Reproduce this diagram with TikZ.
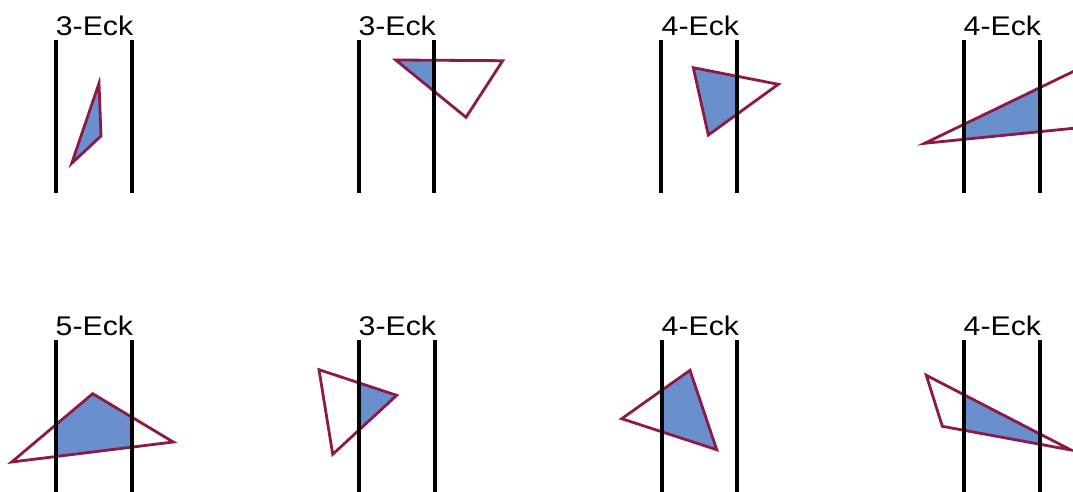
\documentclass[tikz,border=0pt]{standalone}
\usepackage{fontspec}
\setmainfont{Liberation Sans}
\usepackage{graphicx}
\definecolor{polyred}{RGB}{140,25,70}
\definecolor{polyblue}{RGB}{105,143,205}
\tikzset{
  stripline/.style={line width=4pt, black},
  polyline/.style={line width=2.8pt, polyred, line join=miter},
  polyfill/.style={fill=polyblue},
  ecklabel/.style={anchor=base west, inner sep=0pt, font=\fontsize{27}{27}\selectfont}
}
\newcommand\eckpanel[5]{%
  \begin{scope}
    \clip (#1,0) rectangle (#2,492);
    \fill[polyfill] #5;
  \end{scope}
  \draw[polyline] #5;
  \draw[stripline] (#1,#3) -- (#1,#4);
  \draw[stripline] (#2,#3) -- (#2,#4);
}
\begin{document}
\begin{tikzpicture}[x=1pt,y=-1pt]
\useasboundingbox (0,0) rectangle (1073,492);
\clip (0,0) rectangle (1073,492);
\fill[white] (0,0) rectangle (1073,492);
% top row
\eckpanel{55.7}{131.7}{40}{192.7}{(99,83.3) -- (101,136) -- (71.7,163.3) -- cycle}
\eckpanel{359.3}{434.3}{40}{192.7}{(395.7,60) -- (502.7,60.7) -- (466,117.3) -- cycle}
\eckpanel{661}{736.7}{40}{192.7}{(693.3,67.7) -- (778.3,84.3) -- (708.3,135) -- cycle}
\eckpanel{964}{1039.7}{40}{192.7}{(924.7,143.3) -- (1100,58.6) -- (1100,125.6) -- cycle}
% bottom row
\eckpanel{56}{132}{340.3}{495}{(92.7,393.7) -- (173.3,442) -- (11.7,462) -- cycle}
\eckpanel{359}{434.7}{340.3}{495}{(319,369.7) -- (396.7,395.3) -- (332.7,454.3) -- cycle}
\eckpanel{661.7}{736.7}{340.3}{495}{(690,370.3) -- (716.7,449.7) -- (621.7,418.7) -- cycle}
\eckpanel{964}{1039.7}{340.3}{495}{(926.3,375.3) -- (1071,450) -- (942.3,426.3) -- cycle}
% labels
\node[ecklabel] (l1) at (55.7,36) {\scalebox{1.12}[1]{3-Eck}};
\node[ecklabel] (l2) at (358.3,36) {\scalebox{1.12}[1]{3-Eck}};
\node[ecklabel] (l3) at (661.5,36) {\scalebox{1.12}[1]{4-Eck}};
\node[ecklabel] (l4) at (963.5,36) {\scalebox{1.12}[1]{4-Eck}};
\node[ecklabel] (l5) at (55.5,335.3) {\scalebox{1.12}[1]{5-Eck}};
\node[ecklabel] (l6) at (358.5,335.3) {\scalebox{1.12}[1]{3-Eck}};
\node[ecklabel] (l7) at (661.5,335.3) {\scalebox{1.12}[1]{4-Eck}};
\node[ecklabel] (l8) at (963.5,335.3) {\scalebox{1.12}[1]{4-Eck}};
\end{tikzpicture}
\end{document}
